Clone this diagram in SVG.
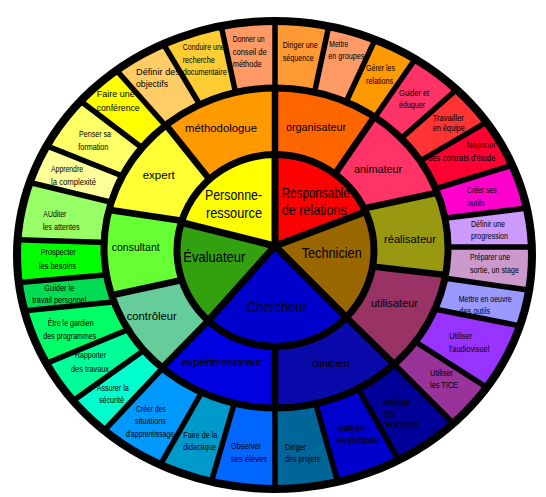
<svg xmlns="http://www.w3.org/2000/svg" width="546" height="497" viewBox="0 0 546 497">
<defs>
<style>
.t{font-family:"Liberation Sans",Arial,sans-serif;font-size:9.5px;fill:#000}
.m{font-family:"Liberation Sans",Arial,sans-serif;font-size:11px;fill:#000}
.i{font-family:"Liberation Sans",Arial,sans-serif;font-size:14.5px;fill:#000}
.dv{stroke:#000;stroke-width:5.5;fill:none}
.dm{stroke:#000;stroke-width:6.5;fill:none}
.di{stroke:#000;stroke-width:7;fill:none;stroke-linecap:round}
.b{fill:none;stroke:#000}
</style>
<clipPath id="cOuter"><ellipse cx="274.5" cy="255" rx="257.5" ry="234"/></clipPath>
<clipPath id="cMid"><ellipse cx="276" cy="248" rx="172" ry="160"/></clipPath>
<clipPath id="cIn"><ellipse cx="275.5" cy="250.5" rx="98.5" ry="96"/></clipPath>
<clipPath id="cRingO"><path clip-rule="evenodd" d="M17,255a257.5,234 0 1,0 515,0a257.5,234 0 1,0 -515,0ZM104,248a172,160 0 1,0 344,0a172,160 0 1,0 -344,0Z"/></clipPath>
<clipPath id="cRingM"><path clip-rule="evenodd" d="M104,248a172,160 0 1,0 344,0a172,160 0 1,0 -344,0ZM177,250.5a98.5,96 0 1,0 197,0a98.5,96 0 1,0 -197,0Z"/></clipPath>
</defs>
<rect width="546" height="497" fill="#fff"/>

<g id="outer-ring" clip-path="url(#cOuter)">
<g id="o01"><polygon points="275,100 275,-50 348,-63 312,104" fill="#FF9933"/><text class="t" x="282.7" y="48.3" textLength="35" lengthAdjust="spacingAndGlyphs">Diriger une</text><text class="t" x="282.7" y="60.7" textLength="31" lengthAdjust="spacingAndGlyphs">séquence</text></g>
<g id="o02"><polygon points="312,104 348,-63 412,-40 340.5,114" fill="#FF9966"/><text class="t" x="329.3" y="46.5" textLength="19" lengthAdjust="spacingAndGlyphs">Mettre</text><text class="t" x="328.3" y="59.3" textLength="36" lengthAdjust="spacingAndGlyphs">en groupes</text></g>
<g id="o03"><polygon points="340.5,114 412,-40 463,-10 366,130" fill="#FF9900"/><text class="t" x="366" y="71" textLength="29" lengthAdjust="spacingAndGlyphs">Gérer les</text><text class="t" x="366" y="84" textLength="27" lengthAdjust="spacingAndGlyphs">relations</text></g>
<g id="o04"><polygon points="366,130 463,-10 515,38 388,150" fill="#FF3366"/><text class="t" x="399" y="96" textLength="30" lengthAdjust="spacingAndGlyphs">Guider et</text><text class="t" x="399" y="107.5" textLength="26" lengthAdjust="spacingAndGlyphs">éduquer</text></g>
<g id="o05"><polygon points="388,150 515,38 550,85 403,171" fill="#FF3333"/><text class="t" x="432.7" y="120.7" textLength="31" lengthAdjust="spacingAndGlyphs">Travailler</text><text class="t" x="432.7" y="131" textLength="32" lengthAdjust="spacingAndGlyphs">en équipe</text></g>
<g id="o06"><polygon points="403,171 550,85 578,145 415,195" fill="#FF0033"/><text class="t" x="466.7" y="148.3" textLength="29" lengthAdjust="spacingAndGlyphs">Négocier</text><text class="t" x="428.3" y="160.5" textLength="67" lengthAdjust="spacingAndGlyphs">des contrats d'étude</text></g>
<g id="o07"><polygon points="415,195 578,145 592,200 422,221" fill="#FF00CC"/><text class="t" x="466.7" y="193.3" textLength="30" lengthAdjust="spacingAndGlyphs">Créer ses</text><text class="t" x="466.7" y="206" textLength="18" lengthAdjust="spacingAndGlyphs">outils</text></g>
<g id="o08"><polygon points="422,221 592,200 600,247 425,247" fill="#CC99FF"/><text class="t" x="471" y="226.7" textLength="34" lengthAdjust="spacingAndGlyphs">Définir une</text><text class="t" x="471" y="239" textLength="37" lengthAdjust="spacingAndGlyphs">progression</text></g>
<g id="o09"><polygon points="425,247 600,247 591,299 423,275" fill="#CC99CC"/><text class="t" x="470" y="260" textLength="40" lengthAdjust="spacingAndGlyphs">Préparer une</text><text class="t" x="470" y="272.7" textLength="49" lengthAdjust="spacingAndGlyphs">sortie, un stage</text></g>
<g id="o10"><polygon points="423,275 591,299 582,338 414,305" fill="#9999FF"/><text class="t" x="458.7" y="301.7" textLength="53" lengthAdjust="spacingAndGlyphs">Mettre en oeuvre</text><text class="t" x="459.3" y="314.3" textLength="31" lengthAdjust="spacingAndGlyphs">des outils</text></g>
<g id="o11"><polygon points="414,305 582,338 544,424 400,332" fill="#9933FF"/><text class="t" x="449.3" y="339.3" textLength="23" lengthAdjust="spacingAndGlyphs">Utiliser</text><text class="t" x="449.3" y="352" textLength="40" lengthAdjust="spacingAndGlyphs">l'audiovisuel</text></g>
<g id="o12"><polygon points="400,332 544,424 503,473 383,353" fill="#993399"/><text class="t" x="430" y="376" textLength="23" lengthAdjust="spacingAndGlyphs">Utiliser</text><text class="t" x="430" y="388.3" textLength="28" lengthAdjust="spacingAndGlyphs">les TICE</text></g>
<g id="o13"><polygon points="383,353 503,473 436,526 352,378" fill="#000099"/><text class="t" x="383" y="405" textLength="27" lengthAdjust="spacingAndGlyphs">Analyse</text><text class="t" x="383" y="416.7" textLength="12" lengthAdjust="spacingAndGlyphs">des</text><text class="t" x="383" y="426.7" textLength="35" lengthAdjust="spacingAndGlyphs">ressources</text></g>
<g id="o14"><polygon points="352,378 436,526 359,558 313,394" fill="#0000CC"/><text class="t" x="336.7" y="430.7" textLength="29" lengthAdjust="spacingAndGlyphs">Analyser</text><text class="t" x="336.7" y="442.5" textLength="41" lengthAdjust="spacingAndGlyphs">les pratiques</text></g>
<g id="o15"><polygon points="313,394 359,558 275,570 275,400" fill="#006699"/><text class="t" x="285" y="449.5" textLength="21" lengthAdjust="spacingAndGlyphs">Diriger</text><text class="t" x="285" y="461.7" textLength="35" lengthAdjust="spacingAndGlyphs">des projets</text></g>
<g id="o16"><polygon points="275,400 275,570 189,558 237,394" fill="#0066FF"/><text class="t" x="231" y="449.3" textLength="30" lengthAdjust="spacingAndGlyphs">Observer</text><text class="t" x="231" y="461.7" textLength="36" lengthAdjust="spacingAndGlyphs">ses élèves</text></g>
<g id="o17"><polygon points="237,394 189,558 123,530 207,383" fill="#0099CC"/><text class="t" x="183.3" y="438.3" textLength="34" lengthAdjust="spacingAndGlyphs">Faire de la</text><text class="t" x="183.3" y="450.3" textLength="33" lengthAdjust="spacingAndGlyphs">didactique</text></g>
<g id="o18"><polygon points="207,383 123,530 56,482 172,358" fill="#0099FF"/><text class="t" x="136" y="411.7" textLength="30" lengthAdjust="spacingAndGlyphs">Créer des</text><text class="t" x="135" y="424.3" textLength="31" lengthAdjust="spacingAndGlyphs">situations</text><text class="t" transform="matrix(0.72,0,0,1,126,436.7)">d'apprentissage</text></g>
<g id="o19"><polygon points="172,358 56,482 18,440 157,341" fill="#00FFCC"/><text class="t" x="96.7" y="390.7" textLength="32" lengthAdjust="spacingAndGlyphs">Assurer la</text><text class="t" x="99" y="403.3" textLength="25" lengthAdjust="spacingAndGlyphs">sécurité</text></g>
<g id="o20"><polygon points="157,341 18,440 -13,388 144,323" fill="#00FF99"/><text class="t" x="75" y="358" textLength="31" lengthAdjust="spacingAndGlyphs">Rapporter</text><text class="t" x="71" y="372.3" textLength="38" lengthAdjust="spacingAndGlyphs">des travaux</text></g>
<g id="o21"><polygon points="144,323 -13,388 -38,317 133,300" fill="#00FF66"/><text class="t" x="47.7" y="325.5" textLength="46" lengthAdjust="spacingAndGlyphs">Être le gardien</text><text class="t" x="43.3" y="338.5" textLength="53" lengthAdjust="spacingAndGlyphs">des programmes</text></g>
<g id="o22"><polygon points="133,300 -38,317 -43,288 127,273" fill="#00DD55"/><text class="t" x="44.3" y="290.7" textLength="30" lengthAdjust="spacingAndGlyphs">Guider le</text><text class="t" x="32.3" y="303.3" textLength="54" lengthAdjust="spacingAndGlyphs">travail personnel</text></g>
<g id="o23"><polygon points="127,273 -43,288 -45,238 125,243" fill="#00FF00"/><text class="t" x="40.7" y="255" textLength="35" lengthAdjust="spacingAndGlyphs">Prospecter</text><text class="t" x="39" y="269" textLength="37" lengthAdjust="spacingAndGlyphs">les besoins</text></g>
<g id="o24"><polygon points="125,243 -45,238 -34,167 131,207" fill="#99FF66"/><text class="t" x="43.3" y="217.3" textLength="23" lengthAdjust="spacingAndGlyphs">AUditer</text><text class="t" x="42.7" y="230" textLength="37" lengthAdjust="spacingAndGlyphs">les attentes</text></g>
<g id="o25"><polygon points="131,207 -34,167 -18,120 140,183" fill="#FFFF99"/><text class="t" x="51" y="171.7" textLength="32" lengthAdjust="spacingAndGlyphs">Apprendre</text><text class="t" x="51" y="185.3" textLength="45" lengthAdjust="spacingAndGlyphs">la complexité</text></g>
<g id="o26"><polygon points="140,183 -18,120 20,55 155.5,158" fill="#FFFF66"/><text class="t" x="79" y="137.3" textLength="32" lengthAdjust="spacingAndGlyphs">Penser sa</text><text class="t" x="78.3" y="150" textLength="30" lengthAdjust="spacingAndGlyphs">formation</text></g>
<g id="o27"><polygon points="155.5,158 20,55 63,10 175.6,137" fill="#FFFF00"/><text class="t" x="96.7" y="96.7" textLength="38" lengthAdjust="spacingAndGlyphs">Faire une</text><text class="t" x="96.7" y="111.3" textLength="43" lengthAdjust="spacingAndGlyphs">conférence</text></g>
<g id="o28"><polygon points="175.6,137 63,10 119,-30 206,115" fill="#FFCC66"/><text class="t" x="136" y="75" textLength="44" lengthAdjust="spacingAndGlyphs">Définir des</text><text class="t" x="136" y="87" textLength="32" lengthAdjust="spacingAndGlyphs">objectifs</text></g>
<g id="o29"><polygon points="206,115 119,-30 202,-63 238,104" fill="#FFCC33"/><text class="t" x="182.7" y="50" textLength="42" lengthAdjust="spacingAndGlyphs">Conduire une</text><text class="t" x="182.7" y="63.3" textLength="32" lengthAdjust="spacingAndGlyphs">recherche</text><text class="t" x="182.7" y="75" textLength="44" lengthAdjust="spacingAndGlyphs">documentaire</text></g>
<g id="o30"><polygon points="238,104 202,-63 275,-50 275,100" fill="#FF9966"/><text class="t" x="232.7" y="41.7" textLength="32" lengthAdjust="spacingAndGlyphs">Donner un</text><text class="t" x="232.7" y="55" textLength="34" lengthAdjust="spacingAndGlyphs">conseil de</text><text class="t" x="232.7" y="66.7" textLength="29" lengthAdjust="spacingAndGlyphs">méthode</text></g>
</g>

<g id="middle-ring" clip-path="url(#cMid)">
<g id="methodologue"><polygon points="221.2,194 106,50 275,20 275,180" fill="#FF9900"/><text class="m" x="185" y="131.5" textLength="72" lengthAdjust="spacingAndGlyphs">méthodologue</text></g>
<g id="organisateur"><polygon points="275,180 275,20 425,43.4 325,188.4" fill="#FF6600"/><text class="m" x="286" y="131" textLength="60" lengthAdjust="spacingAndGlyphs">organisateur</text></g>
<g id="animateur"><polygon points="325,188.4 425,43.4 520,175 345,212.5" fill="#FF3366"/><text class="m" x="354" y="172.5" textLength="48" lengthAdjust="spacingAndGlyphs">animateur</text></g>
<g id="realisateur"><polygon points="345,212.5 520,175 530,284.6 355,264.6" fill="#999911"/><text class="m" x="384" y="243" textLength="52" lengthAdjust="spacingAndGlyphs">réalisateur</text></g>
<g id="utilisateur"><polygon points="355,264.6 530,284.6 452.6,421.4 332.6,303.9" fill="#993366"/><text class="m" x="371" y="306.5" textLength="47" lengthAdjust="spacingAndGlyphs">utilisateur</text></g>
<g id="clinicien"><polygon points="332.6,303.9 452.6,421.4 275,480 275,320" fill="#0A0AAA"/><text class="m" x="311.7" y="367" textLength="38" lengthAdjust="spacingAndGlyphs">clinicien</text></g>
<g id="experimentateur"><polygon points="275,320 275,480 99.2,432 221.7,307" fill="#0000E0"/><text class="m" x="181.7" y="366" textLength="80" lengthAdjust="spacingAndGlyphs">expérimentateur</text></g>
<g id="controleur"><polygon points="221.7,307 99.2,432 53,308 203,275.5" fill="#66CC99"/><text class="m" x="126.7" y="320" textLength="50" lengthAdjust="spacingAndGlyphs">contrôleur</text></g>
<g id="consultant"><polygon points="203,275.5 53,308 43,200 203.8,224" fill="#66FF33"/><text class="m" x="111.7" y="251" textLength="48" lengthAdjust="spacingAndGlyphs">consultant</text></g>
<g id="expert"><polygon points="203.8,224 43,200 106,50 221.2,194" fill="#FFFF33"/><text class="m" x="142.7" y="178.5" textLength="32" lengthAdjust="spacingAndGlyphs">expert</text></g>
</g>

<g id="inner-disc" clip-path="url(#cIn)">
<g id="personne-ressource"><polygon points="275,246 149,214.2 183,154 275,116" fill="#FFFF00"/><text class="i" x="205" y="199.5" textLength="57" lengthAdjust="spacingAndGlyphs">Personne-</text><text class="i" x="206" y="218" textLength="56" lengthAdjust="spacingAndGlyphs">ressource</text></g>
<g id="responsable"><polygon points="275,246 275,116 367,154 396.6,200" fill="#FF0000"/><text class="i" x="281.7" y="197.5" textLength="68" lengthAdjust="spacingAndGlyphs">Responsable</text><text class="i" x="281.7" y="215" textLength="65" lengthAdjust="spacingAndGlyphs">de relations</text></g>
<g id="technicien"><polygon points="275,246 396.6,200 405,246 367,338" fill="#996600"/><text class="i" x="301.7" y="257.5" textLength="60" lengthAdjust="spacingAndGlyphs">Technicien</text></g>
<g id="chercheur"><polygon points="275,246 367,338 275,376 188.3,342.9" fill="#0000CC"/><text class="i" x="246.7" y="311.5" textLength="60" lengthAdjust="spacingAndGlyphs">Chercheur</text></g>
<g id="evaluateur"><polygon points="275,246 188.3,342.9 145,246 149,214.2" fill="#33A010"/><text class="i" x="183.3" y="261.5" textLength="62" lengthAdjust="spacingAndGlyphs">Évaluateur</text></g>
</g>

<g id="connectors">
<g clip-path="url(#cRingO)">
<line class="dv" x1="275" y1="100" x2="275" y2="-50"/>
<line class="dv" x1="312" y1="104" x2="348" y2="-63"/>
<line class="dv" x1="340.5" y1="114" x2="412" y2="-40"/>
<line class="dv" x1="366" y1="130" x2="463" y2="-10"/>
<line class="dv" x1="388" y1="150" x2="515" y2="38"/>
<line class="dv" x1="403" y1="171" x2="550" y2="85"/>
<line class="dv" x1="415" y1="195" x2="578" y2="145"/>
<line class="dv" x1="422" y1="221" x2="592" y2="200"/>
<line class="dv" x1="425" y1="247" x2="600" y2="247"/>
<line class="dv" x1="423" y1="275" x2="591" y2="299"/>
<line class="dv" x1="414" y1="305" x2="582" y2="338"/>
<line class="dv" x1="400" y1="332" x2="544" y2="424"/>
<line class="dv" x1="383" y1="353" x2="503" y2="473"/>
<line class="dv" x1="352" y1="378" x2="436" y2="526"/>
<line class="dv" x1="313" y1="394" x2="359" y2="558"/>
<line class="dv" x1="275" y1="400" x2="275" y2="570"/>
<line class="dv" x1="237" y1="394" x2="189" y2="558"/>
<line class="dv" x1="207" y1="383" x2="123" y2="530"/>
<line class="dv" x1="172" y1="358" x2="56" y2="482"/>
<line class="dv" x1="157" y1="341" x2="18" y2="440"/>
<line class="dv" x1="144" y1="323" x2="-13" y2="388"/>
<line class="dv" x1="133" y1="300" x2="-38" y2="317"/>
<line class="dv" x1="127" y1="273" x2="-43" y2="288"/>
<line class="dv" x1="125" y1="243" x2="-45" y2="238"/>
<line class="dv" x1="131" y1="207" x2="-34" y2="167"/>
<line class="dv" x1="140" y1="183" x2="-18" y2="120"/>
<line class="dv" x1="155.5" y1="158" x2="20" y2="55"/>
<line class="dv" x1="175.6" y1="137" x2="63" y2="10"/>
<line class="dv" x1="206" y1="115" x2="119" y2="-30"/>
<line class="dv" x1="238" y1="104" x2="202" y2="-63"/>
</g>
<g clip-path="url(#cRingM)">
<line class="dm" x1="275" y1="180" x2="275" y2="20"/>
<line class="dm" x1="325" y1="188.4" x2="425" y2="43.4"/>
<line class="dm" x1="345" y1="212.5" x2="520" y2="175"/>
<line class="dm" x1="355" y1="264.6" x2="530" y2="284.6"/>
<line class="dm" x1="332.6" y1="303.9" x2="452.6" y2="421.4"/>
<line class="dm" x1="275" y1="320" x2="275" y2="480"/>
<line class="dm" x1="221.7" y1="307" x2="99.2" y2="432"/>
<line class="dm" x1="203" y1="275.5" x2="53" y2="308"/>
<line class="dm" x1="203.8" y1="224" x2="43" y2="200"/>
<line class="dm" x1="221.2" y1="194" x2="106" y2="50"/>
</g>
<g clip-path="url(#cIn)">
<line class="di" x1="275" y1="246" x2="275" y2="140"/>
<line class="di" x1="275" y1="246" x2="396.6" y2="200"/>
<line class="di" x1="275" y1="246" x2="367" y2="338"/>
<line class="di" x1="275" y1="246" x2="188.3" y2="342.9"/>
<line class="di" x1="275" y1="246" x2="149" y2="214.2"/>
</g>
<ellipse class="b" cx="274.5" cy="255" rx="257.5" ry="234" stroke-width="8"/>
<ellipse class="b" cx="276" cy="248" rx="172" ry="160" stroke-width="7"/>
<ellipse class="b" cx="275.5" cy="250.5" rx="98.5" ry="96" stroke-width="7"/>
</g>
</svg>
